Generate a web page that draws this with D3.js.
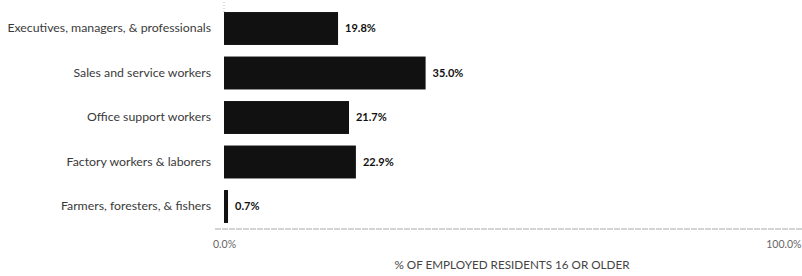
<!DOCTYPE html>
<html>
<head>
<meta charset="utf-8">
<script src="https://cdn.jsdelivr.net/npm/d3@7/dist/d3.min.js"></script>
<style>
  html, body { margin: 0; padding: 0; background: #fff; }
  svg { display: block; font-family: Lato, "Open Sans", sans-serif; }
</style>
</head>
<body>
<svg id="chart" width="802" height="276"></svg>
<script>
const categories = [
  "Executives, managers, & professionals",
  "Sales and service workers",
  "Office support workers",
  "Factory workers & laborers",
  "Farmers, foresters, & fishers"
];
const values = [19.8, 35.0, 21.7, 22.9, 0.7];
const xTicks = [0, 100];
const xTickLabels = ["0.0%", "100.0%"];
const axisTitle = "% OF EMPLOYED RESIDENTS 16 OR OLDER";

const svg = d3.select("#chart");
const x = d3.scaleLinear().domain([0, 100]).range([224, 800]);
const y = d3.scaleBand().domain(categories).range([6.25, 228.75])
  .paddingInner(0.26).paddingOuter(0.13);

// faint y axis line at top
svg.append("line")
  .attr("x1", x(0)).attr("x2", x(0))
  .attr("y1", 2).attr("y2", y(categories[0]))
  .attr("stroke", "#bbb").attr("stroke-width", 1)
  .attr("stroke-dasharray", "1,2");

// bars
svg.append("g").selectAll("rect")
  .data(values)
  .join("rect")
  .attr("x", x(0))
  .attr("y", (d, i) => y(categories[i]))
  .attr("width", d => x(d) - x(0))
  .attr("height", y.bandwidth())
  .attr("fill", "#111");

// value labels
svg.append("g").selectAll("text")
  .data(values)
  .join("text")
  .attr("x", d => x(d) + 7)
  .attr("y", (d, i) => y(categories[i]) + y.bandwidth() / 2)
  .attr("dy", "0.35em")
  .attr("font-size", 11)
  .attr("font-weight", "bold")
  .attr("fill", "#111")
  .text(d => d.toFixed(1) + "%");

// category labels (y axis)
const yAxis = d3.axisLeft(y).tickSize(0).tickPadding(13);
const gy = svg.append("g").attr("transform", `translate(${x(0)},0)`).call(yAxis);
gy.select(".domain").remove();
gy.selectAll("text")
  .attr("font-size", 12.3)
  .attr("font-family", "Lato, 'Open Sans', sans-serif")
  .attr("fill", "#3a3a3a");

// x axis
const xAxis = d3.axisBottom(x).tickValues(xTicks)
  .tickFormat((d, i) => xTickLabels[i]).tickSize(0).tickPadding(12);
const gx = svg.append("g").attr("transform", "translate(0,229)").call(xAxis);
gx.select(".domain").remove();
gx.append("line")
  .attr("x1", 215).attr("x2", 802)
  .attr("y1", 0).attr("y2", 0)
  .attr("stroke", "#aaa").attr("stroke-width", 1)
  .attr("stroke-dasharray", "6,1");
gx.selectAll(".tick text")
  .attr("font-size", 10.5)
  .attr("font-family", "Lato, 'Open Sans', sans-serif")
  .attr("fill", "#666");
gx.selectAll(".tick").filter(d => d === 100).select("text")
  .attr("text-anchor", "end")
  .attr("x", 1);

// axis title
svg.append("text")
  .attr("x", (x(0) + x(100)) / 2)
  .attr("y", 269)
  .attr("text-anchor", "middle")
  .attr("font-size", 11.7)
  .attr("fill", "#444")
  .text(axisTitle);
</script>
</body>
</html>
